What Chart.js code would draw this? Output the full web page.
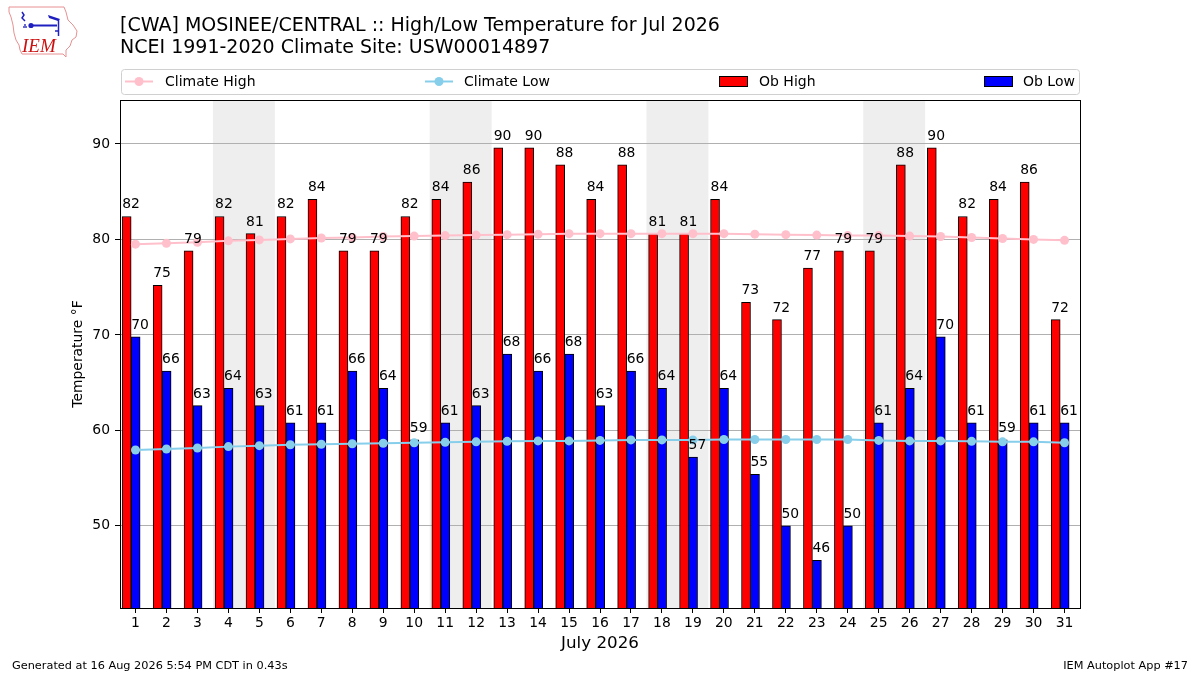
<!DOCTYPE html>
<html>
<head>
<meta charset="utf-8">
<script src="https://cdn.jsdelivr.net/npm/chart.js@4.4.1/dist/chart.umd.min.js"></script>
<style>
html,body{margin:0;padding:0;background:#fff;}
#wrap{position:relative;width:1200px;height:675px;overflow:hidden;font-family:'DejaVu Sans',sans-serif;color:#000;background:#fff;}
#c{position:absolute;left:0;top:0;}
.t{position:absolute;white-space:nowrap;line-height:1;}
svg{position:absolute;left:0;top:0;}
</style>
</head>
<body>
<div id="wrap">
<canvas id="c" width="1200" height="675"></canvas>
<svg width="1200" height="100" xmlns="http://www.w3.org/2000/svg">
  <!-- IEM logo -->
  <polygon points="9,7 64,7 66,12 68,20 73,25 77,31 76,37 72,40 70,46 66,50 66,57 63,54 22,54 20,50 19,45 16,40 14,33 13,25 11,17 9,12" fill="none" stroke="#e89090" stroke-width="1"/>
  <path d="M22,12 L24,15 L22,18 L25,21" fill="none" stroke="#2020c0" stroke-width="1.5"/>
  <line x1="30" y1="25.5" x2="57" y2="25.5" stroke="#2020c0" stroke-width="2"/>
  <circle cx="31" cy="25.5" r="2.6" fill="#2020c0"/>
  <polygon points="48,15 60,19 58,21 49,18" fill="#2020c0"/>
  <line x1="58.5" y1="19" x2="58.5" y2="36" stroke="#2020c0" stroke-width="1.5"/>
  <line x1="55" y1="31" x2="58" y2="31" stroke="#2020c0" stroke-width="1.5"/>
  <circle cx="24" cy="27" r="0.9" fill="#2020c0"/><circle cx="26" cy="27" r="0.9" fill="#2020c0"/><circle cx="25" cy="25" r="0.9" fill="#2020c0"/>
  <text x="22" y="52" font-family="Liberation Serif" font-style="italic" font-size="19" fill="#cc1111">IEM</text>
  <!-- legend frame and handles -->
  <rect x="121.5" y="69.5" width="958" height="25" rx="3" ry="3" fill="#fff" stroke="#d0d0d0" stroke-width="1"/>
  <line x1="125" y1="81.5" x2="153" y2="81.5" stroke="pink" stroke-width="2"/>
  <circle cx="139" cy="81.5" r="4.5" fill="pink"/>
  <line x1="425" y1="81.5" x2="453" y2="81.5" stroke="skyblue" stroke-width="2"/>
  <circle cx="439" cy="81.5" r="4.5" fill="skyblue"/>
  <rect x="719.5" y="76.5" width="28" height="10" fill="red" stroke="#000" stroke-width="1"/>
  <rect x="984.5" y="76.5" width="28" height="10" fill="blue" stroke="#000" stroke-width="1"/>
</svg>
<div class="t" style="left:120px;top:14.9px;font-size:19px;">[CWA] MOSINEE/CENTRAL :: High/Low Temperature for Jul 2026</div>
<div class="t" style="left:120px;top:37.2px;font-size:19px;">NCEI 1991-2020 Climate Site: USW00014897</div>
<div class="t" style="left:165px;top:74px;font-size:14px;">Climate High</div>
<div class="t" style="left:464px;top:74px;font-size:14px;">Climate Low</div>
<div class="t" style="left:759px;top:74px;font-size:14px;">Ob High</div>
<div class="t" style="left:1023px;top:74px;font-size:14px;">Ob Low</div>
<div class="t" style="left:12px;top:659.7px;font-size:11.3px;">Generated at 16 Aug 2026 5:54 PM CDT in 0.43s</div>
<div class="t" style="right:12px;top:659.7px;font-size:11.3px;">IEM Autoplot App #17</div>
</div>
<script>
// ---- data ----
const days = [1,2,3,4,5,6,7,8,9,10,11,12,13,14,15,16,17,18,19,20,21,22,23,24,25,26,27,28,29,30,31];
const obHigh = [82.4,75.2,78.8,82.4,80.6,82.4,84.2,78.8,78.8,82.4,84.2,86.0,89.6,89.6,87.8,84.2,87.8,80.6,80.6,84.2,73.4,71.6,77.0,78.8,78.8,87.8,89.6,82.4,84.2,86.0,71.6];
const obLow = [69.8,66.2,62.6,64.4,62.6,60.8,60.8,66.2,64.4,59.0,60.8,62.6,68.0,66.2,68.0,62.6,66.2,64.4,57.2,64.4,55.4,50.0,46.4,50.0,60.8,64.4,69.8,60.8,59.0,60.8,60.8];
const climHigh = [79.5,79.6,79.7,79.85,79.95,80.05,80.15,80.2,80.3,80.35,80.4,80.45,80.5,80.55,80.6,80.6,80.6,80.6,80.6,80.6,80.55,80.5,80.45,80.4,80.4,80.35,80.3,80.2,80.1,80.0,79.9];
const climLow = [57.95,58.05,58.15,58.3,58.4,58.5,58.55,58.6,58.65,58.7,58.75,58.8,58.85,58.9,58.9,58.95,59.0,59.0,59.0,59.05,59.05,59.05,59.05,59.05,58.95,58.9,58.9,58.85,58.8,58.8,58.7];
const yTicks = [50,60,70,80,90];
const weekendStarts = [4,11,18,25]; // Saturdays; shaded Sat+Sun

// ---- axis / layout configuration ----
const X_MIN = 0.5, X_MAX = 31.5, Y_MIN = 41.4, Y_MAX = 94.6;
const BAR_SHIFT = 0.14;          // bar pairs sit slightly left of the day tick
const PAD_L = 66, PAD_R = 120, Y_AXIS_W = 54, CANVAS_W = 1200;
const PLOT_W = CANVAS_W - PAD_L - PAD_R - Y_AXIS_W;
const BAR_W = 0.29 * PLOT_W / (X_MAX - X_MIN);   // each bar spans 0.29 day

const pts = arr => days.map((d, i) => ({x: d, y: arr[i]}));
const dayTicks = s => { s.ticks = days.map(v => ({value: v})); };

Chart.defaults.font.family = "'DejaVu Sans', sans-serif";
Chart.defaults.color = '#000';

const bgPlugin = {
  id: 'bg',
  beforeDraw(chart) {
    const {ctx, chartArea: a, scales: {x}} = chart;
    ctx.save();
    ctx.fillStyle = '#fff';
    ctx.fillRect(0, 0, chart.width, chart.height);
    ctx.fillStyle = '#eeeeee';
    weekendStarts.forEach(d => {
      const l = x.getPixelForValue(d - 0.5), r = x.getPixelForValue(d + 1.5);
      ctx.fillRect(l, a.top, r - l, a.bottom - a.top);
    });
    ctx.restore();
  },
  afterDatasetsDraw(chart) {
    const {ctx, chartArea: a} = chart;
    ctx.save();
    ctx.font = "13.9px 'DejaVu Sans', sans-serif";
    ctx.fillStyle = '#000';
    ctx.textAlign = 'left';
    ctx.textBaseline = 'alphabetic';
    [[2, obHigh], [3, obLow]].forEach(([di, vals]) => {
      chart.getDatasetMeta(di).data.forEach((bar, j) => {
        const p = bar.getProps(['x', 'y', 'width'], true);
        ctx.fillText(String(Math.round(vals[j])), p.x - p.width / 2, p.y - 8);
      });
    });
    ctx.strokeStyle = '#000';
    ctx.lineWidth = 1;
    ctx.strokeRect(a.left + 0.5, a.top + 0.5, a.right - a.left, a.bottom - a.top);
    ctx.restore();
  }
};

new Chart(document.getElementById('c'), {
  type: 'bar',
  data: {
    datasets: [
      {type: 'line', label: 'Climate High', data: pts(climHigh), xAxisID: 'x', yAxisID: 'y',
       borderColor: 'pink', backgroundColor: 'pink', borderWidth: 2,
       pointRadius: 4.5, pointHoverRadius: 4.5, pointBorderWidth: 0, pointBackgroundColor: 'pink', order: 0},
      {type: 'line', label: 'Climate Low', data: pts(climLow), xAxisID: 'x', yAxisID: 'y',
       borderColor: 'skyblue', backgroundColor: 'skyblue', borderWidth: 2,
       pointRadius: 4.5, pointHoverRadius: 4.5, pointBorderWidth: 0, pointBackgroundColor: 'skyblue', order: 0},
      {type: 'bar', label: 'Ob High', data: pts(obHigh), xAxisID: 'xb', yAxisID: 'y',
       backgroundColor: 'red', borderColor: '#000', borderWidth: 1, borderSkipped: 'bottom',
       barThickness: BAR_W, order: 1},
      {type: 'bar', label: 'Ob Low', data: pts(obLow), xAxisID: 'xb', yAxisID: 'y',
       backgroundColor: 'blue', borderColor: '#000', borderWidth: 1, borderSkipped: 'bottom',
       barThickness: BAR_W, order: 1}
    ]
  },
  options: {
    responsive: false,
    animation: false,
    devicePixelRatio: 1,
    layout: {padding: {left: PAD_L, top: 100, right: PAD_R, bottom: 0}},
    plugins: {legend: {display: false}, title: {display: false}, tooltip: {enabled: false}},
    scales: {
      x: {
        type: 'linear', position: 'bottom', min: X_MIN, max: X_MAX, offset: false,
        afterBuildTicks: dayTicks,
        afterFit: s => { s.height = 67; },
        ticks: {autoSkip: false, maxRotation: 0, minRotation: 0, padding: 2, color: '#000',
                font: {size: 13.9}, callback: v => String(v)},
        grid: {display: true, drawOnChartArea: false, drawTicks: true, tickLength: 5, tickColor: '#000', tickWidth: 1, offset: false},
        border: {display: false},
        title: {display: true, text: 'July 2026', color: '#000', font: {size: 16.7}, padding: {top: 0, bottom: 21}}
      },
      xb: {
        type: 'linear', position: 'bottom', display: false, offset: false,
        min: X_MIN + BAR_SHIFT, max: X_MAX + BAR_SHIFT,
        afterBuildTicks: dayTicks,
        ticks: {autoSkip: false},
        grid: {offset: false}
      },
      y: {
        type: 'linear', position: 'left', min: Y_MIN, max: Y_MAX, beginAtZero: false,
        afterBuildTicks: s => { s.ticks = yTicks.map(v => ({value: v})); },
        afterFit: s => { s.width = Y_AXIS_W; },
        ticks: {padding: 5, color: '#000', font: {size: 13.9}},
        grid: {color: '#b0b0b0', lineWidth: 1, drawTicks: true, tickLength: 5, tickColor: '#000', tickWidth: 1},
        border: {display: false},
        title: {display: true, text: 'Temperature °F', color: '#000', font: {size: 13.9}, padding: {top: 4, bottom: 4}}
      }
    }
  },
  plugins: [bgPlugin]
});
</script>
</body>
</html>
